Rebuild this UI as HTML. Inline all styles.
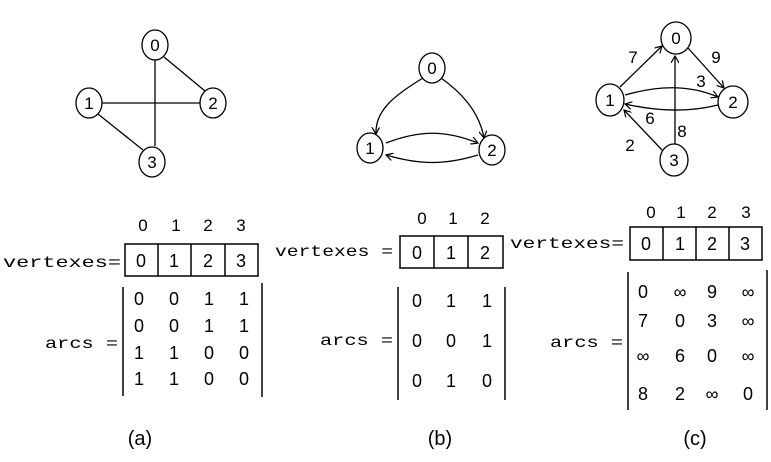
<!DOCTYPE html>
<html><head><style>body{margin:0;background:#fff}svg{display:block}text{font-family:"Liberation Sans",sans-serif;fill:#000}</style></head><body>
<svg width="771" height="462" viewBox="0 0 771 462" xmlns="http://www.w3.org/2000/svg">
<defs><marker id="a" markerWidth="8" markerHeight="8" refX="7" refY="4" orient="auto" markerUnits="userSpaceOnUse"><path d="M0,0 L7,4 L0,8" fill="none" stroke="#000" stroke-width="1.2"/></marker></defs>
<g stroke="#000" stroke-width="1.3" fill="none">
<line x1="155" y1="60" x2="155" y2="146"/>
<line x1="101" y1="103" x2="201" y2="103"/>
<line x1="164" y1="57" x2="205" y2="91"/>
<line x1="98" y1="114" x2="143" y2="150"/>
<ellipse cx="155" cy="45" rx="13" ry="15" fill="#fff"/>
<ellipse cx="89" cy="103" rx="13" ry="15" fill="#fff"/>
<ellipse cx="213" cy="103" rx="13" ry="15" fill="#fff"/>
<ellipse cx="152" cy="162" rx="13" ry="15" fill="#fff"/>
<path d="M423,78 C395,95 375,110 376,134" marker-end="url(#a)"/>
<path d="M441,78 C465,95 480,115 484,138" marker-end="url(#a)"/>
<path d="M386,143 C420,130 445,130 478,143" marker-end="url(#a)"/>
<path d="M478,155 C445,165 420,165 386,155" marker-end="url(#a)"/>
<ellipse cx="432" cy="68" rx="13" ry="15" fill="#fff"/>
<ellipse cx="370" cy="148" rx="13" ry="15" fill="#fff"/>
<ellipse cx="492" cy="150" rx="13" ry="15" fill="#fff"/>
<line x1="675" y1="145" x2="675" y2="56" marker-end="url(#a)"/>
<line x1="620" y1="87" x2="662" y2="46" marker-end="url(#a)"/>
<line x1="688" y1="48" x2="724" y2="88" marker-end="url(#a)"/>
<line x1="662" y1="150" x2="624" y2="110" marker-end="url(#a)"/>
<path d="M625,95 C660,85 690,85 718,97" marker-end="url(#a)"/>
<path d="M718,105 C690,112 660,112 625,104" marker-end="url(#a)"/>
<ellipse cx="676" cy="38" rx="15" ry="16" fill="#fff"/>
<ellipse cx="610" cy="100" rx="14" ry="16" fill="#fff"/>
<ellipse cx="733" cy="102" rx="15" ry="16" fill="#fff"/>
<ellipse cx="674" cy="160" rx="14" ry="16" fill="#fff"/>
</g>
<g font-size="17" text-anchor="middle">
<text x="155" y="51">0</text><text x="89" y="109">1</text><text x="213" y="109">2</text><text x="152" y="168">3</text>
<text x="432" y="74">0</text><text x="370" y="154">1</text><text x="492" y="156">2</text>
<text x="676" y="44">0</text><text x="610" y="106">1</text><text x="733" y="108">2</text><text x="674" y="166">3</text>
<text x="633" y="63">7</text><text x="716" y="63">9</text><text x="701" y="87">3</text><text x="650" y="124">6</text><text x="682" y="137">8</text><text x="630" y="151">2</text>
</g>
<g font-size="17" text-anchor="middle">
<text x="143" y="231">0</text><text x="176" y="231">1</text><text x="208" y="231">2</text><text x="241" y="231">3</text>
<text x="422" y="224">0</text><text x="453" y="224">1</text><text x="485" y="224">2</text>
<text x="651" y="218">0</text><text x="681" y="218">1</text><text x="712" y="218">2</text><text x="746" y="218">3</text>
</g>
<g stroke="#000" stroke-width="1.5" fill="none">
<rect x="125" y="244" width="133" height="32"/><line x1="158" y1="244" x2="158" y2="276"/><line x1="191" y1="244" x2="191" y2="276"/><line x1="225" y1="244" x2="225" y2="276"/>
<rect x="400" y="236" width="103" height="32"/><line x1="434" y1="236" x2="434" y2="268"/><line x1="468" y1="236" x2="468" y2="268"/>
<rect x="630" y="227" width="132" height="33"/><line x1="663" y1="227" x2="663" y2="260"/><line x1="696" y1="227" x2="696" y2="260"/><line x1="729" y1="227" x2="729" y2="260"/>
<line x1="123" y1="287" x2="123" y2="396"/><line x1="262" y1="283" x2="262" y2="397"/>
<line x1="398" y1="287" x2="398" y2="400"/><line x1="505" y1="287" x2="505" y2="400"/>
<line x1="628" y1="272" x2="628" y2="410"/><line x1="767" y1="270" x2="767" y2="410"/>
</g>
<g font-size="18" text-anchor="middle">
<text x="141" y="267">0</text><text x="174" y="267">1</text><text x="208" y="267">2</text><text x="241" y="267">3</text>
<text x="417" y="259">0</text><text x="451" y="259">1</text><text x="485" y="259">2</text>
<text x="646" y="250">0</text><text x="680" y="250">1</text><text x="712" y="250">2</text><text x="745" y="250">3</text>
</g>
<g font-size="16">
<text x="3" y="267" textLength="118" lengthAdjust="spacingAndGlyphs" style="font-family:'Liberation Mono',monospace">vertexes=</text>
<text x="275" y="256" textLength="118" lengthAdjust="spacingAndGlyphs" style="font-family:'Liberation Mono',monospace">vertexes =</text>
<text x="510" y="248" textLength="114" lengthAdjust="spacingAndGlyphs" style="font-family:'Liberation Mono',monospace">vertexes=</text>
<text x="45" y="348" textLength="73" lengthAdjust="spacingAndGlyphs" style="font-family:'Liberation Mono',monospace">arcs =</text>
<text x="320" y="345" textLength="73" lengthAdjust="spacingAndGlyphs" style="font-family:'Liberation Mono',monospace">arcs =</text>
<text x="550" y="347" textLength="73" lengthAdjust="spacingAndGlyphs" style="font-family:'Liberation Mono',monospace">arcs =</text>
</g>
<g font-size="18" text-anchor="middle">
<text x="139" y="305">0</text><text x="174" y="305">0</text><text x="209" y="305">1</text><text x="244" y="305">1</text>
<text x="139" y="332">0</text><text x="174" y="332">0</text><text x="209" y="332">1</text><text x="244" y="332">1</text>
<text x="139" y="359">1</text><text x="174" y="359">1</text><text x="209" y="359">0</text><text x="244" y="359">0</text>
<text x="139" y="385">1</text><text x="174" y="385">1</text><text x="209" y="385">0</text><text x="244" y="385">0</text>
<text x="417" y="307">0</text><text x="451" y="307">1</text><text x="487" y="307">1</text>
<text x="417" y="347">0</text><text x="451" y="347">0</text><text x="487" y="347">1</text>
<text x="417" y="387">0</text><text x="451" y="387">1</text><text x="487" y="387">0</text>
<text x="643" y="298">0</text><text x="680" y="298">∞</text><text x="712" y="298">9</text><text x="748" y="298">∞</text>
<text x="643" y="327">7</text><text x="680" y="327">0</text><text x="712" y="327">3</text><text x="748" y="327">∞</text>
<text x="643" y="362">∞</text><text x="680" y="362">6</text><text x="712" y="362">0</text><text x="748" y="362">∞</text>
<text x="643" y="400">8</text><text x="680" y="400">2</text><text x="712" y="400">∞</text><text x="748" y="400">0</text>
</g>
<g font-size="20" text-anchor="middle">
<text x="140" y="445">(a)</text><text x="440" y="445">(b)</text><text x="695" y="445">(c)</text>
</g>
</svg>
</body></html>
